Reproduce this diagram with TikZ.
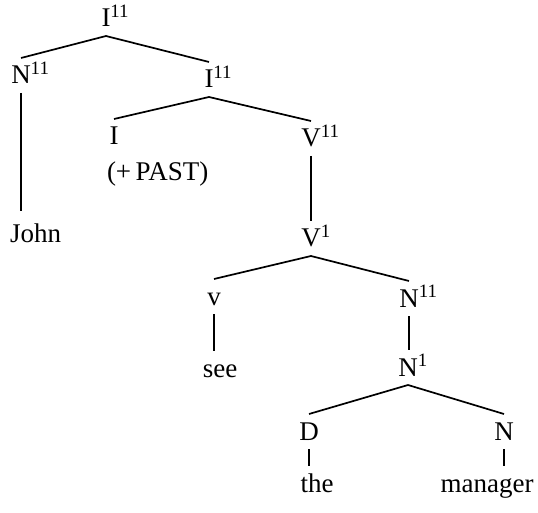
\documentclass[tikz,border=0pt]{standalone}
\usepackage{fontspec}
\setmainfont{Liberation Serif}

\begin{document}
\begin{tikzpicture}[
  x=1pt, y=-1pt,
  font=\fontsize{27}{32}\selectfont,
  cat/.style={inner sep=0pt, outer xsep=0pt, outer ysep=9pt,
              anchor=base, text height=17pt, text depth=0pt},
  branch/.style={line width=1.7pt, black}]

\useasboundingbox (0,0) rectangle (538,513);

%% ---- categorias (centradas en la letra, el indice con \rlap) ----
\node[cat] (itop) at (106,27)  {I\rlap{\textsuperscript{11}}};
\node[cat] (np)   at (21,84)   {N\rlap{\textsuperscript{11}}};
\node[cat] (imid) at (209,88)  {I\rlap{\textsuperscript{11}}};
\node[cat] (infl) at (114,145) {I};
\node[cat, anchor=base west] (past) at (107,181) {(+\,PAST)};
\node[cat] (vpp)  at (311,147) {V\rlap{\textsuperscript{11}}};
\node[cat] (vp)   at (311,247) {V\rlap{\textsuperscript{1}}};
\node[cat] (verb) at (214,305) {v};
\node[cat] (npp)  at (409,307) {N\rlap{\textsuperscript{11}}};
\node[cat] (nbar) at (408,376) {N\rlap{\textsuperscript{1}}};
\node[cat] (det)  at (309,440) {D};
\node[cat] (noun) at (504,440) {N};

%% ---- palabras ----
\node[cat, anchor=base west] (john) at (10,243) {John};
\node[cat] (see)     at (220,377) {see};
\node[cat] (the)     at (317,492) {the};
\node[cat] (manager) at (487,492) {manager};

%% ---- ramas ----
\draw[branch] (itop.south) -- (np.north);
\draw[branch] (itop.south) -- (imid.north);
\draw[branch] (np.south) -- ([yshift=6pt]np.south |- john.north);
\draw[branch] (imid.south) -- (infl.north);
\draw[branch] (imid.south) -- (vpp.north);
\draw[branch] (vpp.south) -- (vpp.south |- vp.north);
\draw[branch] (vp.south) -- (verb.north);
\draw[branch] (vp.south) -- (npp.north);
\draw[branch] (verb.south) -- (verb.south |- see.north);
\draw[branch] (npp.south) -- (npp.south |- nbar.north);
\draw[branch] (nbar.south) -- (det.north);
\draw[branch] (nbar.south) -- (noun.north);
\draw[branch] (det.south) -- (det.south |- the.north);
\draw[branch] (noun.south) -- (noun.south |- manager.north);
\end{tikzpicture}
\end{document}
